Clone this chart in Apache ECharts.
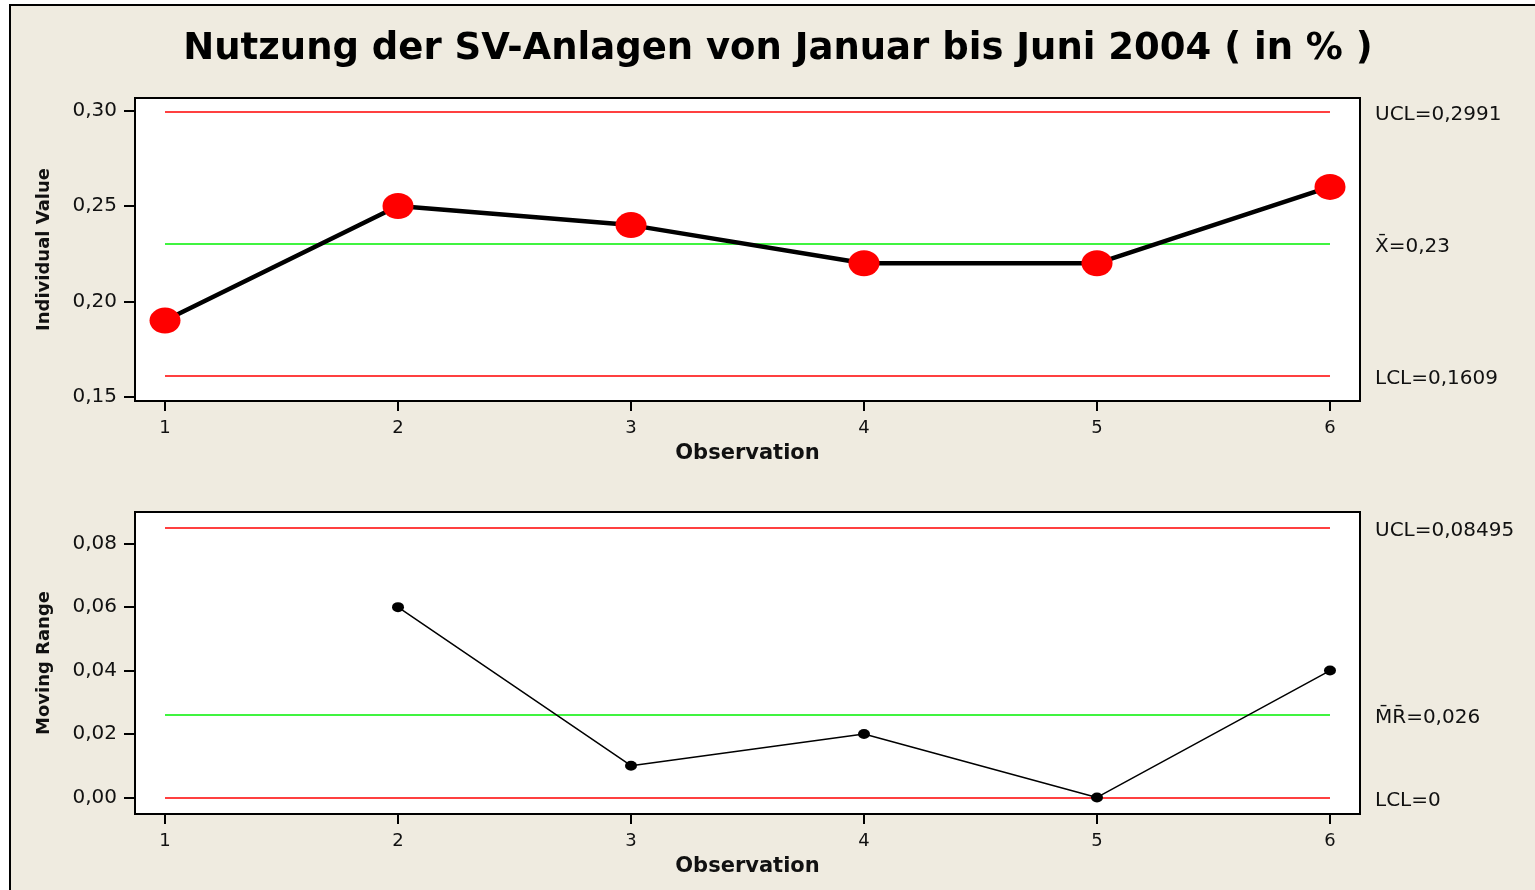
<!DOCTYPE html>
<html lang="en">
<head>
  <meta charset="UTF-8">
  <title>Nutzung der SV-Anlagen</title>
  <script src="https://cdn.jsdelivr.net/npm/echarts@6/dist/echarts.min.js"></script>
  <style>
    html, body { margin: 0; padding: 0; background: #fff; }
  </style>
</head>
<body>
  <div id="main" style="width: 1535px;height: 890px;"></div>
  <script type="text/javascript">
    // data
    var observations = [1, 2, 3, 4, 5, 6]
    var individualValues = [0.19, 0.25, 0.24, 0.22, 0.22, 0.26]
    var movingRanges = [null, 0.06, 0.01, 0.02, 0.00, 0.04]
    var individualLimits = [0.2991, 0.23, 0.1609]   // UCL, mean, LCL
    var mrLimits = [0.08495, 0.026, 0]              // UCL, mean, LCL
    var individualLabels = ['UCL=0,2991', 'X\u0304=0,23', 'LCL=0,1609']
    var mrLabels = ['UCL=0,08495', 'M\u0304R\u0304=0,026', 'LCL=0']
    var individualTicks = [0.15, 0.20, 0.25, 0.30]
    var mrTicks = [0, 0.02, 0.04, 0.06, 0.08]

    var FONT = 'DejaVu Sans'
    var limitColors = ['#ff0000', '#00f000', '#ff0000']

    function comma(v) {
      return v.toFixed(2).replace('.', ',')
    }

    function pairs(vals) {
      return observations.map(function (o, i) { return [o, vals[i]] })
    }

    function limitLines(limits, labels) {
      return {
        silent: true,
        symbol: 'none',
        animation: false,
        data: limits.map(function (v, i) {
          return [
            { coord: [observations[0], v], lineStyle: { color: limitColors[i], width: 1.5, type: 'solid' },
              label: { formatter: labels[i] } },
            { coord: [observations[observations.length - 1], v] }
          ]
        }),
        label: {
          show: true, position: 'end', distance: 45, offset: [0, 3],
          color: '#111', fontSize: 20, fontFamily: FONT
        }
      }
    }

    function xAxisOpt(idx) {
      return {
        type: 'value', gridIndex: idx, min: 0.8712, max: 6.1288,
        name: 'Observation', nameLocation: 'middle', nameGap: 42,
        nameTextStyle: { fontFamily: FONT, fontWeight: 'bold', fontSize: 21, color: '#111' },
        axisLine: { onZero: false, lineStyle: { color: '#000', width: 2 } },
        axisTick: { show: true, length: 10, lineStyle: { color: '#000', width: 2 }, customValues: observations },
        axisLabel: { color: '#111', fontSize: 18, fontFamily: FONT, margin: 18, customValues: observations },
        splitLine: { show: false }
      }
    }

    function yAxisOpt(idx, min, max, ticks, name) {
      return {
        type: 'value', gridIndex: idx, min: min, max: max,
        name: name, nameLocation: 'middle', nameGap: 82,
        nameTextStyle: { fontFamily: FONT, fontWeight: 'bold', fontSize: 18, color: '#111' },
        axisLine: { onZero: false, lineStyle: { color: '#000', width: 2 } },
        axisTick: { show: true, length: 11, lineStyle: { color: '#000', width: 2 }, customValues: ticks },
        axisLabel: { color: '#111', fontSize: 20, fontFamily: FONT, margin: 18, customValues: ticks, formatter: comma },
        splitLine: { show: false }
      }
    }

    var myChart = echarts.init(document.getElementById('main'))

    myChart.setOption({
      backgroundColor: '#fff',
      animation: false,
      graphic: [{
        type: 'rect', z: -100,
        shape: { x: 10, y: 5, width: 1540, height: 900 },
        style: { fill: '#efebe0', stroke: '#000', lineWidth: 2 }
      }],
      title: {
        text: 'Nutzung der SV-Anlagen von Januar bis Juni 2004 ( in % )',
        left: 773, top: 26, textAlign: 'center',
        textStyle: { fontFamily: FONT, fontWeight: 'bold', fontSize: 37, color: '#000' }
      },
      grid: [
        { left: 135, width: 1225, top: 98, height: 303, show: true, backgroundColor: '#fff', borderColor: '#000', borderWidth: 2 },
        { left: 135, width: 1225, top: 512, height: 302, show: true, backgroundColor: '#fff', borderColor: '#000', borderWidth: 2 }
      ],
      xAxis: [xAxisOpt(0), xAxisOpt(1)],
      yAxis: [
        yAxisOpt(0, 0.1479, 0.30656, individualTicks, 'Individual Value'),
        yAxisOpt(1, -0.00523, 0.0900, mrTicks, 'Moving Range')
      ],
      series: [
        {
          type: 'line', xAxisIndex: 0, yAxisIndex: 0,
          data: pairs(individualValues),
          symbol: 'circle', symbolSize: [31, 26],
          itemStyle: { color: '#ff0000' },
          lineStyle: { color: '#000', width: 4.5 },
          z: 5,
          markLine: limitLines(individualLimits, individualLabels)
        },
        {
          type: 'line', xAxisIndex: 1, yAxisIndex: 1,
          data: pairs(movingRanges),
          symbol: 'circle', symbolSize: [12, 10],
          itemStyle: { color: '#000' },
          lineStyle: { color: '#000', width: 1.5 },
          z: 5,
          markLine: limitLines(mrLimits, mrLabels)
        }
      ]
    })
  </script>
</body>
</html>
